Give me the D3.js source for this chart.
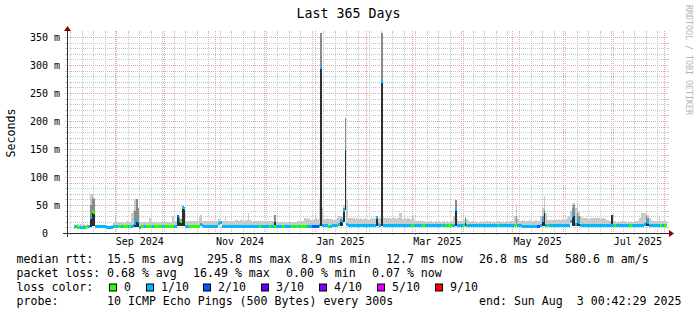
<!DOCTYPE html>
<html><head><meta charset="utf-8">
<script src="https://cdn.jsdelivr.net/npm/d3@7"></script>
<style>
html,body{margin:0;padding:0;background:#fff;}
text{font-family:"DejaVu Sans Mono",monospace;fill:#000;}
</style></head><body>
<svg id="c" width="697" height="315"></svg>
<script>
// ---------------- data ----------------
const chartTitle = "Last 365 Days";
const yLabel = "Seconds";
const yTicks = [0, 50, 100, 150, 200, 250, 300, 350];
const yMax = 357.14;
const endTime = Date.UTC(2025, 7, 3, 0, 42, 29);
// median rtt per day (ms), day 0 = 365 days before end
const med = [
null,null,null,null,10.5,10.8,10.4,10.6,10.5,10.7,
10.6,10.5,10.8,11,28,38,36,11,10.8,11,
11.2,11,10.8,11,10.5,10.6,10.2,10.4,11,11.5,
11.5,11.6,11.4,11.5,11.6,11.5,11.4,11.6,11.5,11.8,
14,17,23,20,10.5,11,11.2,11.4,11.3,11.2,
11.3,11.2,11.4,11.3,11.2,11.3,11.4,11.3,11.5,11.4,
11.5,11.4,11.6,11.5,11.6,11.8,12,29,22,20,
46,44,12,12,12.2,12,12.1,12,12.2,12,
12.2,16,12.5,12.2,12,12.1,12.2,12,12,12.1,
12,12.2,17,18,12.2,12,12,12.2,12.1,12,
12,12.2,12.1,12,12.2,12.1,12,12,12.1,12.2,
12.1,12.2,12.1,12,12.2,12.1,12,12.1,12.2,12,
12.1,12,12.2,12.1,12,12.1,12.2,12,12.1,12,
12,12.1,12.2,12,12.1,12,12.2,12.1,12,12.1,
12,12.1,12,12.2,12.1,12,12.1,12.2,12,12.1,
12,12.2,12.3,12.5,296,13,12.8,12.6,12.5,12.4,
12.4,12.5,12.6,12.5,13,15,22,20,41,150,
16,13.5,13.2,13,12.8,13,12.8,12.7,12.6,12.8,
12.8,12.7,12.6,12.8,12.7,12.6,12.8,14,27,15,
13,271,13,12.8,12.7,12.6,12.8,12.7,12.6,12.8,
12.8,12.7,12.8,12.6,12.7,12.8,12.7,12.6,12.8,12.7,
12.8,12.7,12.6,12.8,12.7,12.6,12.8,12.7,12.6,12.8,
12.7,12.6,12.8,12.7,12.6,12.8,12.7,12.6,12.8,12.7,
12.6,12.8,12.7,12.6,13,14,42,13,12.8,12.7,
12.6,13,20,13,12.8,12.7,12.6,12.8,12.7,12.6,
12.8,12.7,12.6,12.8,12.7,12.6,12.8,12.7,12.6,12.8,
12.7,12.6,12.8,12.7,12.6,12.8,12.7,12.6,12.8,12.7,
12.6,12.8,13,16,12.8,12.7,12.5,12.4,12.3,12.4,
12.3,12.4,12.3,12.2,12.3,12.4,12.3,12.2,13,23,
38,14,12.6,12.5,12.6,12.7,12.6,12.5,12.6,12.7,
12.6,12.5,12.6,12.7,13,14,20,30,33,16,
20,18,14,12.8,12.6,12.5,12.6,12.7,12.6,12.5,
12.6,12.7,12.6,12.5,12.6,12.7,12.6,12.5,12.6,12.7,
12.6,13.5,12.7,12.6,12.5,12.6,12.7,12.6,12.5,12.6,
12.7,12.6,12.5,12.6,12.7,12.6,12.5,12.6,12.7,12.6,
13,16,20,18,14,12.8,12.6,12.5,12.6,12.7,
12.6,12.5,12.6,12.7,12.6
];
// loss level index per day (0 = 0, 1 = 1/10, 2 = 2/10 ...)
const loss = [
0,0,0,0,0,1,0,0,1,0,
1,0,0,1,1,0,0,1,1,1,
1,1,1,1,1,1,1,1,1,0,
1,0,0,1,0,0,0,1,0,1,
1,1,1,1,1,0,0,1,0,0,
0,0,1,0,0,0,0,0,1,0,
0,0,0,0,0,1,1,2,1,0,
1,1,1,1,0,0,0,0,0,0,
0,1,1,1,1,1,1,1,1,1,
1,1,1,1,1,1,1,1,1,1,
1,1,1,1,1,1,1,1,1,1,
1,1,1,1,1,1,1,0,1,1,
1,1,1,0,1,1,0,1,1,1,
1,0,1,1,1,1,0,0,1,0,
0,1,0,0,0,0,1,1,1,2,
2,2,2,1,1,1,1,1,1,0,
1,1,1,1,0,1,1,1,1,1,
1,1,1,1,1,1,1,1,1,1,
1,1,1,1,1,1,1,1,1,1,
1,1,1,1,1,1,1,1,1,1,
1,1,1,1,1,1,1,1,1,0,
0,1,1,1,1,1,0,0,1,1,
1,1,1,1,1,1,1,1,0,1,
0,1,0,0,1,1,1,1,1,1,
1,0,1,1,1,1,1,1,1,1,
1,1,1,1,1,1,1,1,1,1,
1,1,0,1,1,1,1,1,1,1,
1,1,0,0,1,1,1,1,1,1,
1,1,1,1,1,1,2,2,1,1,
1,1,0,1,1,1,1,1,1,1,
1,1,1,1,1,1,1,1,1,1,
1,1,1,1,1,1,1,1,1,1,
1,1,1,1,1,1,1,1,1,1,
1,1,1,0,1,1,1,1,1,1,
1,1,0,0,1,1,1,1,1,1,
1,1,1,1,1,1,1,1,1,1,
1,0,1,0,0
];
// outer (light) smoke top per day (ms)
const smokeHi = [
null,null,null,null,16,15,16,15,16,15,
16,15,16,15,70,70,62,14,14,14,
13,14,14,13,14,13,14,15,20,26,
19,20,19,20,18,19,22,22,20,35,
41,61,61,45,20,19,19,20,19,19,
26,20,19,19,20,19,19,20,19,19,
20,19,19,20,30,20,21,32,30,25,
47,46,22,21,22,22,22,22,22,22,
30,32,22,21,22,22,21,22,22,22,
21,22,25,22,21,22,29,22,21,22,
21,22,23,23,22,23,23,22,23,23,
35,23,21,21,22,21,21,22,21,21,
21,21,21,21,21,21,32,20,20,20,
20,20,20,20,20,20,20,20,20,20,
21,22,21,22,26,26,25,26,24,23,
25,26,25,60,357,44,25,25,26,25,
25,25,24,25,26,30,30,28,50,205,
60,26,26,27,26,25,26,25,26,25,
25,26,25,24,25,26,25,26,30,26,
26,357,27,26,26,27,26,25,26,26,
25,26,35,35,25,26,25,26,25,25,
32,24,22,21,22,21,22,21,20,21,
20,21,20,20,21,20,21,20,20,21,
20,21,20,21,22,30,59,25,22,21,
22,24,32,25,21,20,21,20,21,20,
20,21,20,21,20,21,20,21,20,21,
20,21,20,21,20,21,20,21,20,21,
21,22,30,50,25,22,22,23,22,22,
22,23,22,22,22,23,22,22,30,45,
66,35,24,24,23,24,25,24,24,25,
24,25,24,25,26,30,40,53,53,45,
53,40,30,26,26,26,26,25,26,26,
26,27,27,26,25,26,26,25,24,24,
22,32,22,21,20,21,20,21,20,21,
20,21,20,21,20,21,22,21,26,35,
35,35,35,32,26,23,22,21,22,22,
29,22,22,23,22
];
// inner (dark) smoke bars: day, bottom, dark top, mid-grey top (ms)
const barDay  = [14,15,16,41,42,43,67,68,69,70,71,126,154,166,167,168,169,188,191,236,242,273,289,290,307,308,310,311,331,352,353];
const barLo   = [11,12,12,11,11,11,12,12,12,12,12,12,12.5,12.6,12.6,20,41,13,13,13,13,12.5,12.5,12.5,13,13,13,13,12.6,13,13];
const barDark = [28,38,36,17,23,20,29,22,20,46,44,20,296,22,20,41,150,27,271,42,20,16,23,38,30,33,20,18,32,20,18];
const barMid  = [50,62,61,40,61,45,30,28,25,46,44,32,357,25,24,45,205,28,357,59,26,30,30,40,45,50,35,30,32,30,26];
// legend
const lossLabels = ["0", "1/10", "2/10", "3/10", "4/10", "5/10", "9/10"];
const lossColors = ["#26ff00", "#00b8ff", "#0059ff", "#5e00ff", "#7e00ff", "#dd00ff", "#ff0000"];
const rttStats = ["15.5 ms avg", "295.8 ms max", "8.9 ms min", "12.7 ms now", "26.8 ms sd", "580.6 m am/s"];
const lossStats = ["0.68 % avg", "16.49 % max", "0.00 % min", "0.07 % now"];
const probeText = "10 ICMP Echo Pings (500 Bytes) every 300s";
const endText = "end: Sun Aug  3 00:42:29 2025";
const watermark = "RRDTOOL / TOBI OETIKER";

// ---------------- layout ----------------
const X0 = 67, X1 = 667, Y0 = 233, Y1 = 33;
const DAY = 864e5;
const startTime = endTime - 365 * DAY;
const x = d3.scaleUtc().domain([startTime, endTime]).range([X0, X1]);
const y = d3.scaleLinear().domain([0, yMax]).range([Y0, Y1]);
const svg = d3.select("#c");
const yc = v => y(Math.min(v, yMax));
const dayX = d => Math.round(x(startTime + d * DAY));

// ---------------- grid ----------------
const grid = svg.append("g");
const minorCol = "#c6c6c6", majorCol = "#e8a0a0";
// horizontal minor
d3.range(10, yMax, 10).filter(v => v % 50 !== 0).forEach(v => {
  const yy = Math.round(y(v)) + 0.5;
  grid.append("line").attr("x1", X0).attr("x2", X1).attr("y1", yy).attr("y2", yy)
    .attr("stroke", minorCol).attr("stroke-dasharray", "1,1");
  grid.append("line").attr("x1", X0 - 2).attr("x2", X0).attr("y1", yy).attr("y2", yy).attr("stroke", minorCol);
  grid.append("line").attr("x1", X1).attr("x2", X1 + 2).attr("y1", yy).attr("y2", yy).attr("stroke", minorCol);
});
// vertical minor (weekly)
const months = d3.utcMonth.range(new Date(startTime), new Date(endTime));
d3.utcMonday.range(new Date(startTime), new Date(endTime)).forEach(t => {
  const xx = Math.round(x(t)) + 0.5;
  grid.append("line").attr("x1", xx).attr("x2", xx).attr("y1", Y1).attr("y2", Y0)
    .attr("stroke", minorCol).attr("stroke-dasharray", "1,1");
  grid.append("line").attr("x1", xx).attr("x2", xx).attr("y1", Y0).attr("y2", Y0 + 2).attr("stroke", minorCol);
  grid.append("line").attr("x1", xx).attr("x2", xx).attr("y1", Y1 - 2).attr("y2", Y1).attr("stroke", minorCol);
});
// horizontal major
yTicks.filter(v => v > 0).forEach(v => {
  const yy = Math.round(y(v)) + 0.5;
  grid.append("line").attr("x1", X0 - 2).attr("x2", X1 + 2).attr("y1", yy).attr("y2", yy)
    .attr("stroke", majorCol).attr("stroke-dasharray", "1,1");
});
// vertical major (monthly)
months.forEach(t => {
  const xx = Math.round(x(t)) + 0.5;
  grid.append("line").attr("x1", xx).attr("x2", xx).attr("y1", Y1 - 2).attr("y2", Y0 + 2)
    .attr("stroke", majorCol).attr("stroke-dasharray", "1,1");
});

// ---------------- data marks ----------------
const marks = svg.append("g").attr("shape-rendering", "crispEdges");
const barIndex = new Map(barDay.map((d, i) => [d, i]));
// light smoke
med.forEach((m, d) => {
  if (m == null) return;
  const bi = barIndex.get(d);
  const lo = bi != null ? Math.min(m, barLo[bi]) : m;
  const xa = dayX(d), xb = dayX(d + 1);
  marks.append("rect").attr("x", xa).attr("width", xb - xa)
    .attr("y", yc(smokeHi[d])).attr("height", Math.max(0, yc(lo) - yc(smokeHi[d])))
    .attr("fill", "#cacaca");
});
// mid + dark smoke bars
barDay.forEach((d, i) => {
  const xa = dayX(d), xb = Math.max(dayX(d + 1), xa + 1);
  marks.append("rect").attr("x", xa).attr("width", xb - xa)
    .attr("y", yc(barMid[i])).attr("height", yc(barLo[i]) - yc(barMid[i])).attr("fill", "#8a8a8a");
  marks.append("rect").attr("x", xa).attr("width", xb - xa)
    .attr("y", yc(barDark[i])).attr("height", yc(barLo[i]) - yc(barDark[i])).attr("fill", "#2e2e2e");
});
// median band coloured by loss
med.forEach((m, d) => {
  if (m == null) return;
  const xa = dayX(d), xb = dayX(d + 1);
  const yy = y(m);
  marks.append("rect").attr("x", xa).attr("width", xb - xa)
    .attr("y", yy - 1.5).attr("height", 3).attr("fill", lossColors[loss[d]]);
});

// ---------------- axes ----------------
const axisCol = "#2c2c2c", arrowCol = "#8b0000";
svg.append("line").attr("x1", X0 - 4).attr("x2", X1 + 4).attr("y1", Y0 + 0.5).attr("y2", Y0 + 0.5).attr("stroke", axisCol);
svg.append("line").attr("x1", X0 + 0.5).attr("x2", X0 + 0.5).attr("y1", Y0 + 4).attr("y2", Y1 - 4).attr("stroke", axisCol);
svg.append("path").attr("d", `M${X1 + 2},${Y0 - 3}L${X1 + 2},${Y0 + 4}L${X1 + 7},${Y0 + 0.5}Z`).attr("fill", arrowCol);
svg.append("path").attr("d", `M${X0 - 3},${Y1 - 2}L${X0 + 4},${Y1 - 2}L${X0 + 0.5},${Y1 - 7}Z`).attr("fill", arrowCol);

const yAxis = d3.axisLeft(y).tickValues(yTicks).tickSize(0).tickPadding(7)
  .tickFormat(v => v === 0 ? "0" : v + " m");
const ya = svg.append("g").attr("transform", `translate(${X0},0)`).call(yAxis);
ya.select(".domain").remove();
ya.selectAll("text").attr("font-size", "10px").attr("font-family", "DejaVu Sans Mono")
  .attr("dy", "0.35em").attr("x", v => v === 0 ? -19 : -7);

const labelTimes = d3.utcMonth.every(2).range(new Date(startTime), new Date(endTime))
  .map(t => new Date(+t + 15 * DAY));
const xAxis = d3.axisBottom(x).tickValues(labelTimes).tickSize(0).tickPadding(5)
  .tickFormat(d3.utcFormat("%b %Y"));
const xa = svg.append("g").attr("transform", `translate(0,${Y0})`).call(xAxis);
xa.select(".domain").remove();
xa.selectAll("text").attr("font-size", "10px").attr("font-family", "DejaVu Sans Mono").attr("dy", "0.71em");

// ---------------- texts ----------------
svg.append("text").attr("x", 348.5).attr("y", 18).attr("text-anchor", "middle")
  .attr("font-size", "13.3px").text(chartTitle);
svg.append("text").attr("transform", "translate(14.5,133) rotate(-90)").attr("text-anchor", "middle")
  .attr("font-size", "11.6px").text(yLabel);
svg.append("text").attr("transform", "translate(686,5) rotate(90)")
  .attr("font-size", "8.3px").style("fill", "#b4b4b4").text(watermark);

const lg = svg.append("g").attr("font-size", "11.6px").attr("xml:space", "preserve");
const L1 = 262.5, L2 = 276.5, L3 = 290.5, L4 = 304.5;
lg.append("text").attr("x", 16.5).attr("y", L1).text("median rtt:");
const rttX = [107, 207, 301, 386, 479, 565];
rttStats.forEach((s, i) => lg.append("text").attr("x", rttX[i]).attr("y", L1).text(s));
lg.append("text").attr("x", 16.5).attr("y", L2).text("packet loss:");
const lossX = [107, 193, 286, 372];
lossStats.forEach((s, i) => lg.append("text").attr("x", lossX[i]).attr("y", L2).text(s));
lg.append("text").attr("x", 16.5).attr("y", L3).text("loss color:");
const boxX = [109, 146, 203, 261, 319, 377, 435];
lossLabels.forEach((s, i) => {
  lg.append("rect").attr("x", boxX[i] + 0.5).attr("y", L3 - 6.5).attr("width", 7).attr("height", 7)
    .attr("fill", lossColors[i]).attr("stroke", "#000").attr("stroke-width", 1);
  lg.append("text").attr("x", boxX[i] + 15).attr("y", L3).text(s);
});
lg.append("text").attr("x", 16.5).attr("y", L4).text("probe:");
lg.append("text").attr("x", 107).attr("y", L4).text(probeText);
lg.append("text").attr("x", 479).attr("y", L4).style("white-space", "pre").text(endText);
</script>
</body></html>
